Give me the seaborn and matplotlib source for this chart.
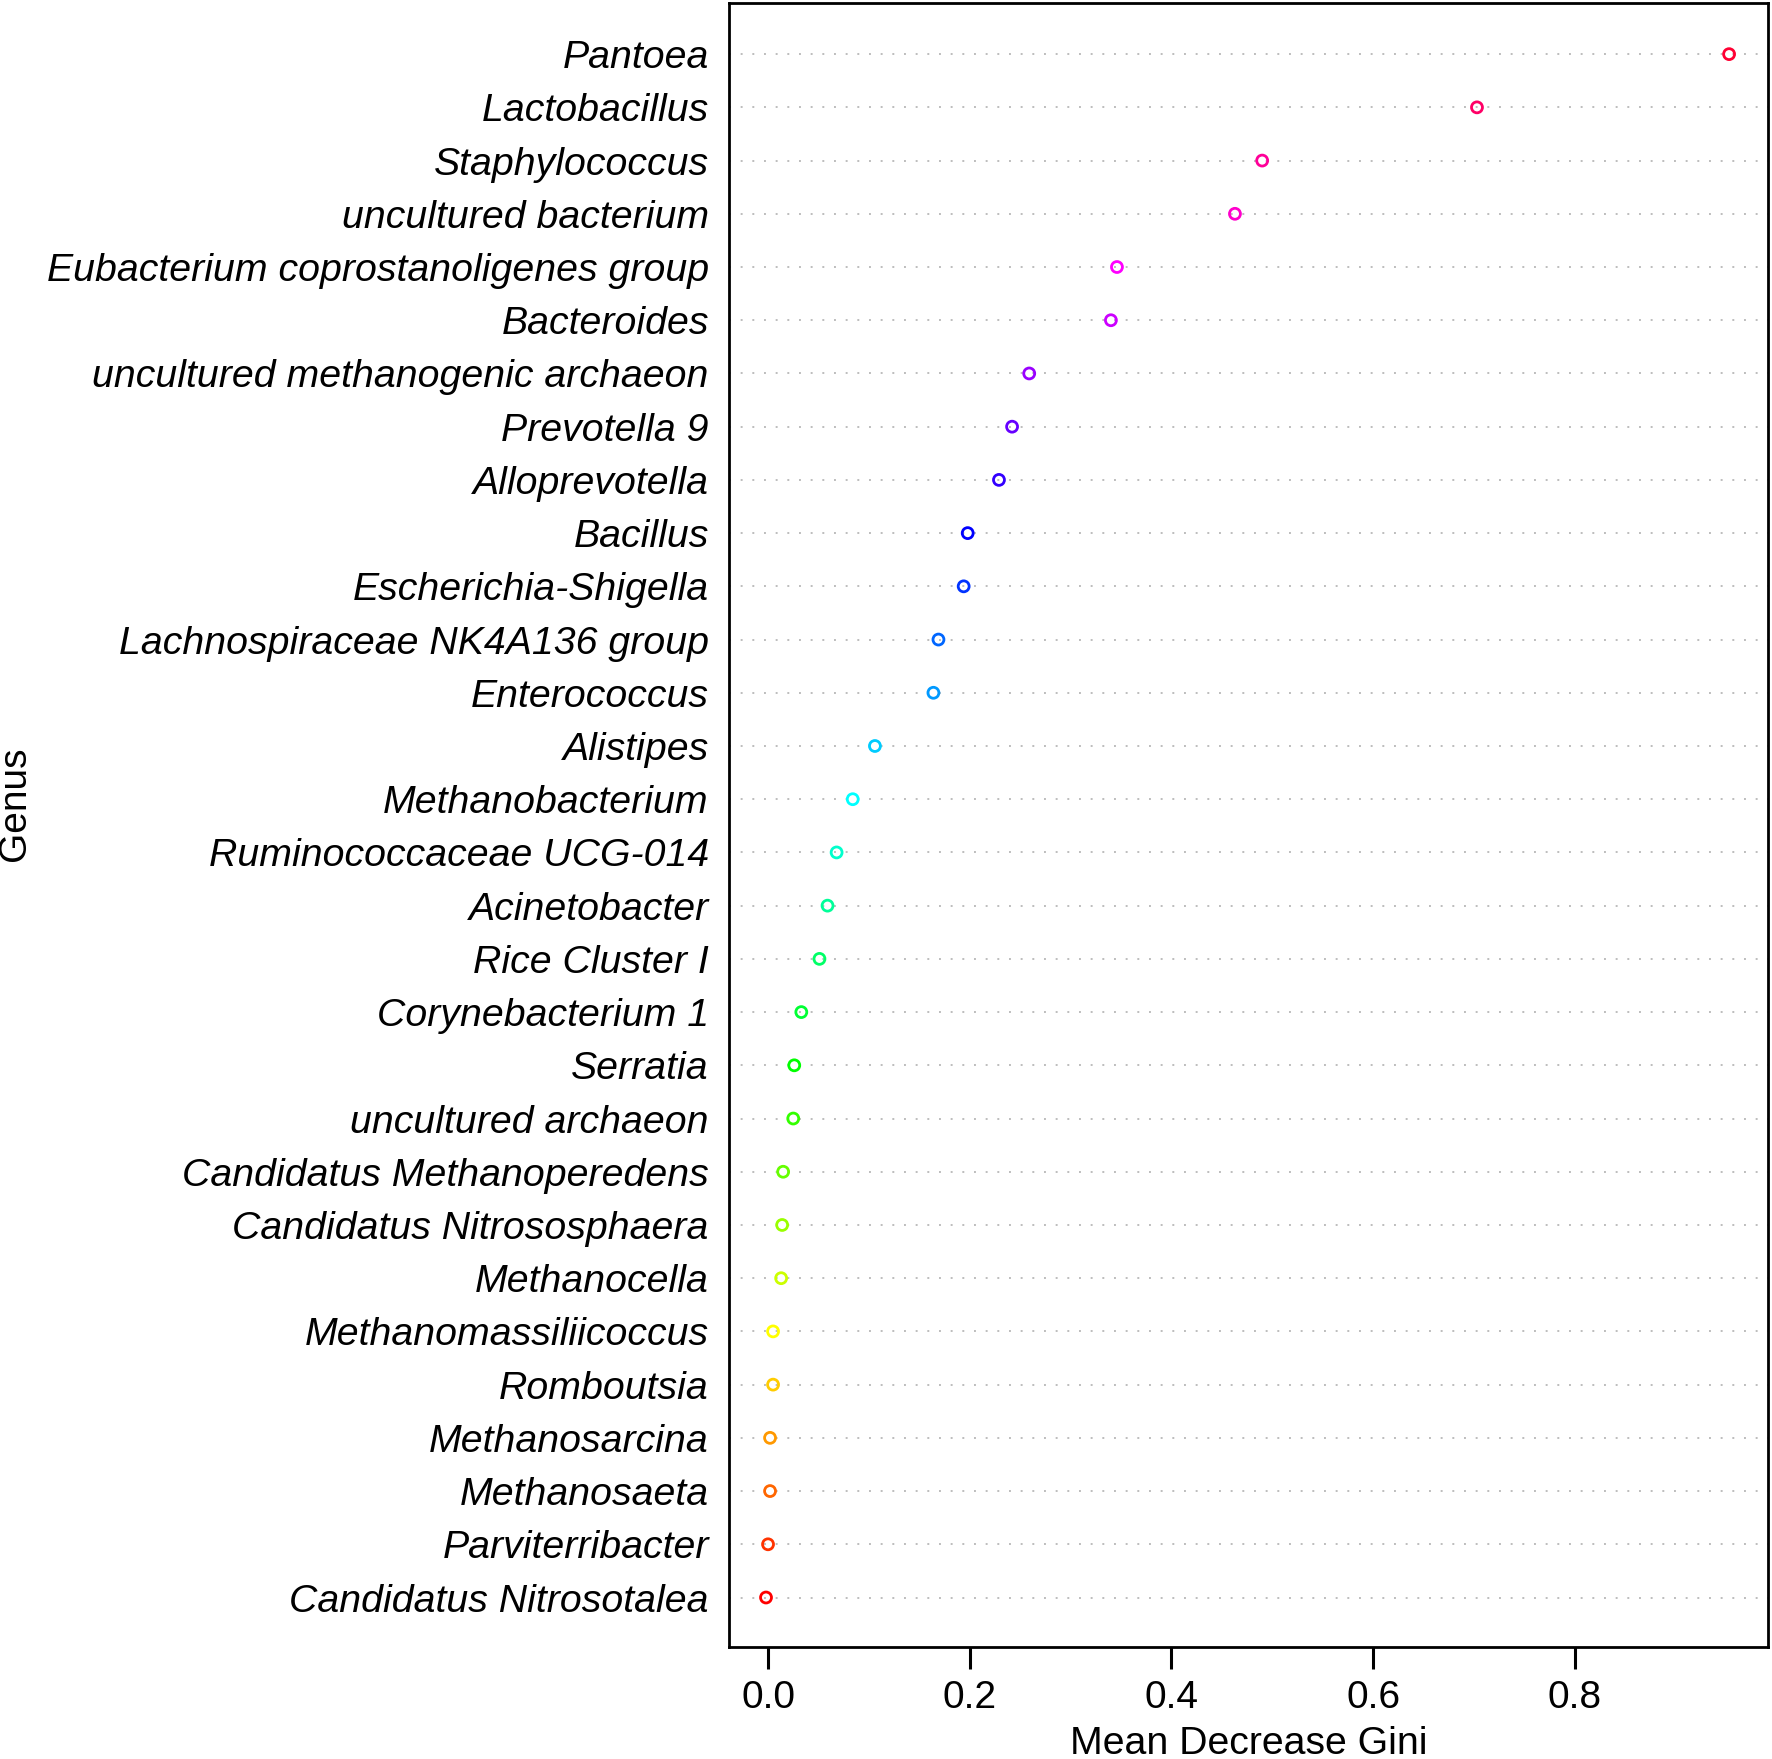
import colorsys
import matplotlib
matplotlib.use("Agg")
import matplotlib.pyplot as plt
import pandas as pd
import seaborn as sns

# ==============================
# DATA (top row first)
# ==============================
genus = [
    "Pantoea", "Lactobacillus", "Staphylococcus", "uncultured bacterium",
    "Eubacterium coprostanoligenes group", "Bacteroides",
    "uncultured methanogenic archaeon", "Prevotella 9", "Alloprevotella",
    "Bacillus", "Escherichia-Shigella", "Lachnospiraceae NK4A136 group",
    "Enterococcus", "Alistipes", "Methanobacterium", "Ruminococcaceae UCG-014",
    "Acinetobacter", "Rice Cluster I", "Corynebacterium 1", "Serratia",
    "uncultured archaeon", "Candidatus Methanoperedens",
    "Candidatus Nitrososphaera", "Methanocella", "Methanomassiliicoccus",
    "Romboutsia", "Methanosarcina", "Methanosaeta", "Parviterribacter",
    "Candidatus Nitrosotalea",
]
gini = [
    0.953, 0.703, 0.490, 0.463, 0.346, 0.340, 0.259, 0.242, 0.229, 0.198,
    0.194, 0.169, 0.164, 0.106, 0.084, 0.068, 0.059, 0.051, 0.033, 0.026,
    0.025, 0.015, 0.014, 0.013, 0.005, 0.005, 0.002, 0.002, 0.000, -0.002,
]
xticks = [0.0, 0.2, 0.4, 0.6, 0.8]

df = pd.DataFrame({"Genus": genus, "Mean Decrease Gini": gini})
n = len(genus)
# rainbow palette, red at the bottom going round to red-pink at the top
colors = [colorsys.hsv_to_rgb((n - 1 - i) / n, 1, 1) for i in range(n)]

sns.set_theme(style="white")
plt.rcParams["font.family"] = ["Liberation Sans", "DejaVu Sans"]
plt.rcParams["lines.scale_dashes"] = False
for key in ["text.color", "axes.labelcolor", "xtick.color", "ytick.color"]:
    plt.rcParams[key] = "black"

fig = plt.figure(figsize=(17.72, 17.59), dpi=100)
ax = fig.add_axes([0.4114, 0.06367, 0.5863, 0.9346])

sns.scatterplot(data=df, x="Mean Decrease Gini", y="Genus", hue="Genus",
                palette=colors, s=62, linewidth=2.0, legend=False, ax=ax,
                zorder=3)
coll = ax.collections[0]
coll.set_edgecolors(coll.get_facecolors())
coll.set_facecolors("none")

# dotted guide lines
ax.grid(axis="y", color="#bdbdbd", linestyle=(0, (1.4, 7.0)), linewidth=1.4)
ax.grid(axis="x", visible=False)
ax.set_axisbelow(True)

ax.set_xlim(-0.0387, 0.9915)
ax.set_ylim(n - 1 + 0.93, -0.96)
ax.set_xticks(xticks)
ax.set_xticklabels([f"{t:.1f}" for t in xticks])

for side in ["top", "bottom", "left", "right"]:
    ax.spines[side].set_visible(True)
    ax.spines[side].set_color("black")
    ax.spines[side].set_linewidth(2.0)

ax.tick_params(axis="y", length=0, pad=14.5, labelsize=28.3)
ax.tick_params(axis="x", length=15.8, width=2.2, pad=8, labelsize=28,
               color="black", bottom=True)
for lbl in ax.get_yticklabels():
    lbl.set_fontstyle("italic")

ax.set_xlabel("Mean Decrease Gini", fontsize=28.3, labelpad=7)
ax.set_ylabel("")
fig.text(15 / 1772, 1 - 804 / 1759, "Genus", rotation=90, fontsize=28,
         ha="center", va="center")

fig.savefig("out.png", dpi=100)
